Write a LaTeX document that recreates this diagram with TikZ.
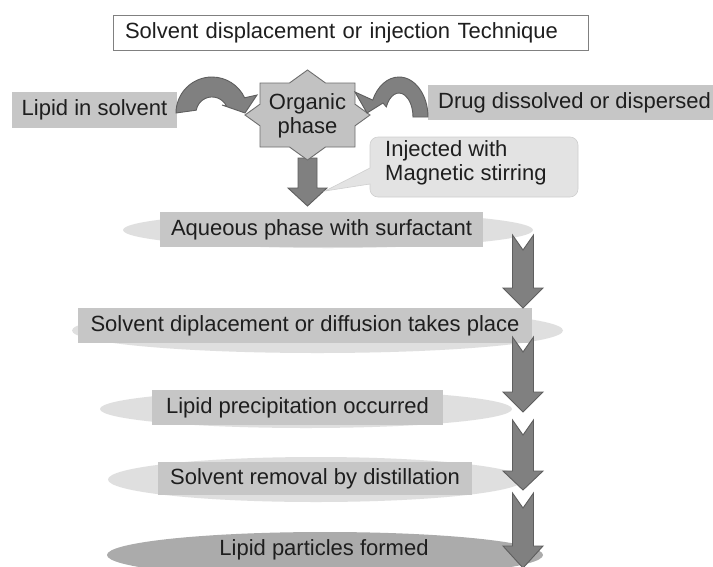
\documentclass[tikz,border=0pt]{standalone}
\usepackage{fontspec}
\setmainfont{Liberation Sans}
\usetikzlibrary{shapes.geometric}
\definecolor{txt}{HTML}{1E1E1E}
\definecolor{boxg}{HTML}{C6C6C6}
\definecolor{ovalg}{HTML}{DFDFDF}
\definecolor{ovaldark}{HTML}{ABABAB}
\definecolor{arrg}{HTML}{808080}
\definecolor{arrd}{HTML}{5E5E5E}
\definecolor{starg}{HTML}{C2C2C2}
\definecolor{stard}{HTML}{6E6E6E}
\definecolor{callg}{HTML}{E3E3E3}
\definecolor{calld}{HTML}{CFCFCF}
\definecolor{titled}{HTML}{808080}
\newcommand{\DownBlk}[5]{%
  \path[blk] ({#1-10.5},#2) -- (#1,{#2+#5}) -- ({#1+10.5},#2) -- ({#1+10.5},#3)
    -- ({#1+20},#3) -- (#1,#4) -- ({#1-20},#3) -- ({#1-10.5},#3) -- cycle;}
\begin{document}
\begin{tikzpicture}[x=1pt,y=-1pt,
  lbl/.style={font=\fontsize{22}{24}\selectfont, text=txt},
  box/.style={lbl, fill=boxg, inner xsep=0pt, inner ysep=0pt},
  oval/.style={ellipse, fill=ovalg, inner sep=0pt},
  blk/.style={fill=arrg, draw=arrd, line width=0.9pt, line join=miter}]
\useasboundingbox (0,0) rectangle (713,566);
\fill[white] (0,0) rectangle (713,566);

% title
\node[lbl, draw=titled, line width=0.9pt, fill=white, minimum height=35pt,
      text width=451pt, inner xsep=12pt, inner ysep=0pt, align=left] (title)
      at (350.5,32.5) {Solvent displacement or injection Technique};

% inputs
\node[box, minimum width=165pt, minimum height=36pt] (lip) at (94.5,110) {Lipid in solvent};
\node[box, anchor=west, minimum height=35pt, inner xsep=10pt] (drug) at (428,102.5) {Drug dissolved or dispersed};

% down arrow from organic phase
\path[blk] (298,158) -- (317,158) -- (317,188) -- (327,188) -- (307.5,206)
  -- (288,188) -- (298,188) -- cycle;

% organic phase star
\path[fill=starg, draw=stard, line width=0.9pt] (307.5,70) -- (325.5,83) -- (355,83)
  -- (355,104.2) -- (370,115) -- (355,125.8) -- (355,147) -- (325.5,147)
  -- (307.5,160) -- (289.5,147) -- (260,147) -- (260,125.8) -- (245,115)
  -- (260,104.2) -- (260,83) -- (289.5,83) -- cycle;
\node[lbl, align=center, inner sep=0pt] (org) at (307.5,116) {Organic\\phase};

% curved arrows
\path[blk] (176,113) arc[start angle=180, end angle=335, radius=36]
  -- (257,95) -- (245,113) -- (222,105) -- (226.5,106.2)
  arc[start angle=335, end angle=190, radius=16] -- cycle;
\path[blk] (428,117) arc[start angle=0, end angle=-155, x radius=29, y radius=40]
  -- (355,92) -- (367,113) -- (383,103) -- (386.3,106.9)
  arc[start angle=-155, end angle=0, x radius=14, y radius=24] -- cycle;

% callout
\path[fill=callg, draw=calld, line width=0.6pt] (370,168) -- (370,145)
  arc[start angle=180, end angle=270, radius=8] -- (570,137)
  arc[start angle=270, end angle=360, radius=8] -- (578,189)
  arc[start angle=0, end angle=90, radius=8] -- (378,197)
  arc[start angle=90, end angle=180, radius=8] -- (370,184) -- (325,191) -- cycle;
\node[lbl, align=left, inner sep=0pt, anchor=west] (inj) at (385,163) {Injected with\\Magnetic stirring};

% stages
\node[oval, minimum width=410pt, minimum height=36pt] (e1) at (328,230) {};
\node[box, minimum width=323pt, minimum height=35pt] (aq) at (321.5,229.5) {Aqueous phase with surfactant};
\node[oval, minimum width=491pt, minimum height=45pt] (e2) at (317.5,330.5) {};
\node[box, minimum width=454pt, minimum height=35pt] (sd) at (305,325.5) {Solvent diplacement or diffusion takes place};
\node[oval, minimum width=412pt, minimum height=38pt] (e3) at (306,409) {};
\node[box, minimum width=291pt, minimum height=35pt] (lp) at (297.5,407.5) {Lipid precipitation occurred};
\node[oval, minimum width=416pt, minimum height=45pt] (e4) at (316,479.5) {};
\node[box, minimum width=314pt, minimum height=33pt] (sr) at (315,478.5) {Solvent removal by distillation};
\node[oval, fill=ovaldark, minimum width=436pt, minimum height=46pt] (e5) at (325,555) {};
\node[lbl, inner sep=0pt] (lpf) at (324,550) {Lipid particles formed};

% right-hand block arrows
\DownBlk{523}{235}{288}{308}{15}
\DownBlk{523}{337}{392}{412}{15}
\DownBlk{523}{420}{471}{490}{15}
\DownBlk{523}{493}{546}{568}{15}
\end{tikzpicture}
\end{document}
